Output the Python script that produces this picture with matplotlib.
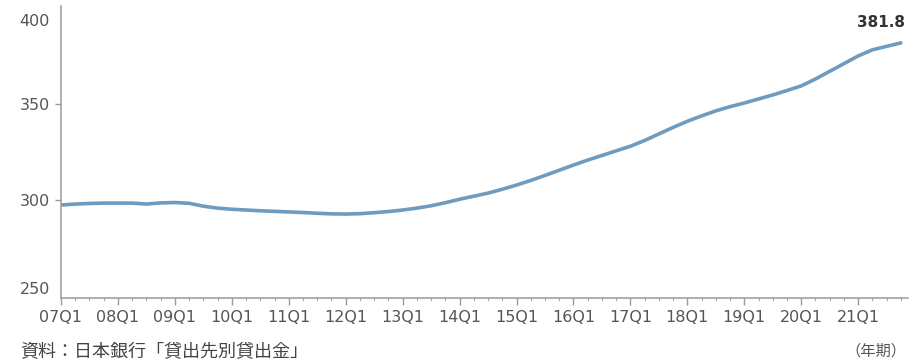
import matplotlib
matplotlib.use("Agg")
import matplotlib.pyplot as plt
import matplotlib.transforms as mtransforms
from matplotlib.ticker import FixedLocator, MultipleLocator

# Quarterly values 2007Q1 - 2021Q4
values = [
    297.4, 297.9, 298.2, 298.4,   # 2007
    298.4, 298.4, 297.9, 298.5,   # 2008
    298.7, 298.3, 296.8, 295.8,   # 2009
    295.2, 294.8, 294.4, 294.1,   # 2010
    293.8, 293.5, 293.1, 292.8,   # 2011
    292.7, 292.9, 293.4, 294.0,   # 2012
    294.8, 295.8, 297.0, 298.6,   # 2013
    300.4, 302.0, 303.6, 305.6,   # 2014
    307.8, 310.2, 312.8, 315.5,   # 2015
    318.2, 320.8, 323.2, 325.6,   # 2016
    328.0, 331.0, 334.4, 337.8,   # 2017
    341.0, 343.8, 346.4, 348.6,   # 2018
    350.5, 352.6, 354.7, 357.0,   # 2019
    359.4, 363.0, 367.0, 371.0,   # 2020
    375.0, 378.2, 380.0, 381.8,   # 2021
]
year_labels = ["07Q1", "08Q1", "09Q1", "10Q1", "11Q1", "12Q1", "13Q1",
               "14Q1", "15Q1", "16Q1", "17Q1", "18Q1", "19Q1", "20Q1", "21Q1"]
y_ticks = [250, 300, 350, 400]
last_label = "381.8"
source_text = "資料：日本銀行「貸出先別貸出金」"
unit_text = "（年期）"

W, H = 913, 362
fig = plt.figure(figsize=(W / 100, H / 100), dpi=100)
ax = fig.add_axes([61 / W, (H - 298) / H, (908 - 61) / W, (298 - 6) / H])

x = list(range(len(values)))
ax.plot(x, values, color="#6f9bbf", lw=2.6, solid_capstyle="round")

ax.set_xlim(0, 59.5)
ax.set_ylim(249, 401)

ax.xaxis.set_major_locator(FixedLocator([4 * i for i in range(len(year_labels))]))
ax.set_xticklabels(year_labels)
ax.xaxis.set_minor_locator(MultipleLocator(1))
ax.set_yticks(y_ticks)

for s in ["top", "right"]:
    ax.spines[s].set_visible(False)
for s in ["left", "bottom"]:
    ax.spines[s].set_color("#9a9a9a")
    ax.spines[s].set_linewidth(1.1)

ax.tick_params(axis="x", which="major", length=5, width=1, color="#9a9a9a",
               labelsize=11.5, labelcolor="#555555", pad=4)
ax.tick_params(axis="x", which="minor", length=2.5, width=0.8, color="#b0b0b0")
ax.tick_params(axis="y", which="major", length=4, width=1, color="#9a9a9a",
               labelsize=11.5, labelcolor="#555555", pad=4)

# end-of-axis y labels sit slightly inside the axis range in the reference
offsets = {400: -12, 250: 8}
for tick, val in zip(ax.yaxis.get_major_ticks(), y_ticks):
    if val in offsets:
        tr = mtransforms.ScaledTranslation(0, offsets[val] / 100, fig.dpi_scale_trans)
        tick.label1.set_transform(tick.label1.get_transform() + tr)
        tick.tick1line.set_visible(False)

ax.annotate(last_label, xy=(x[-1], values[-1]), xytext=(-14, 9),
            textcoords="offset points", ha="center", va="bottom",
            fontsize=11, fontweight="bold", color="#333333")

cjk = ["Noto Sans CJK JP", "DejaVu Sans"]
fig.text(20 / W, (H - 343) / H, source_text, ha="left", va="top",
         fontsize=13, color="#444444", family=cjk)
fig.text(906 / W, (H - 351) / H, unit_text, ha="right", va="center",
         fontsize=11, color="#555555", family=cjk)

fig.savefig("out.png", dpi=100)
